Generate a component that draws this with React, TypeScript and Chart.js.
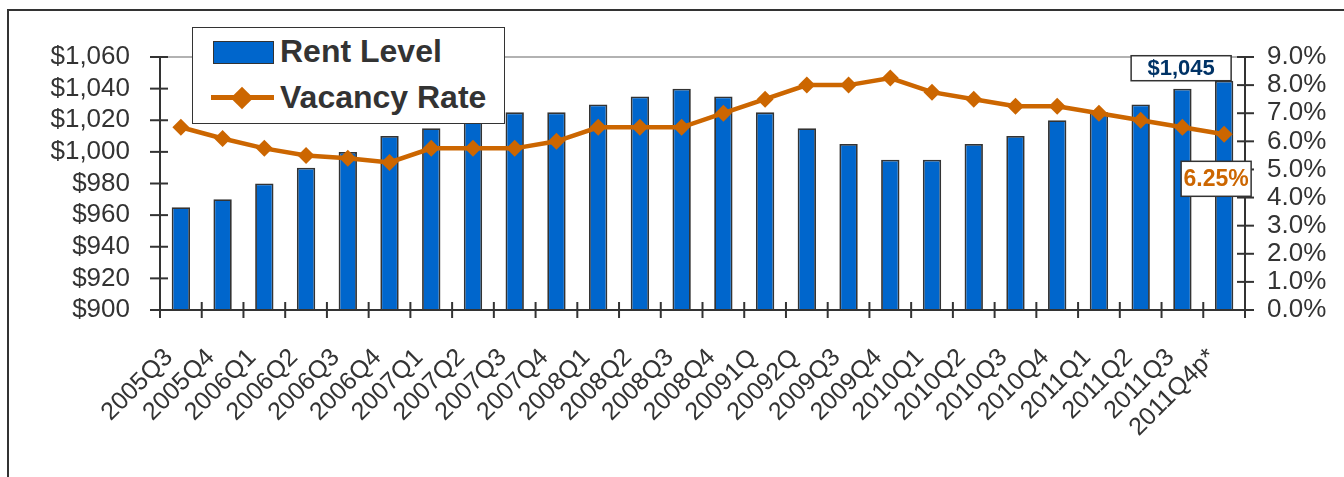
import React, { useEffect, useRef } from 'react';
import { Chart, registerables } from 'chart.js';

Chart.register(...registerables);

const categories = [
  '2005Q3', '2005Q4', '2006Q1', '2006Q2', '2006Q3', '2006Q4', '2007Q1', '2007Q2', '2007Q3',
  '2007Q4', '2008Q1', '2008Q2', '2008Q3', '2008Q4', '20091Q', '20092Q', '2009Q3', '2009Q4',
  '2010Q1', '2010Q2', '2010Q3', '2010Q4', '2011Q1', '2011Q2', '2011Q3', '2011Q4p*',
];
const rentLevel = [
  965, 970, 980, 990, 1000, 1010, 1015, 1020, 1025, 1025, 1030, 1035, 1040, 1035, 1025, 1015,
  1005, 995, 995, 1005, 1010, 1020, 1025, 1030, 1040, 1045,
];
const vacancyRate = [
  6.5, 6.1, 5.75, 5.5, 5.4, 5.25, 5.75, 5.75, 5.75, 6.0, 6.5, 6.5, 6.5, 7.0, 7.5, 8.0, 8.0, 8.25,
  7.75, 7.5, 7.25, 7.25, 7.0, 6.75, 6.5, 6.25,
];
const rentTicks = [900, 920, 940, 960, 980, 1000, 1020, 1040, 1060];
const vacancyTicks = [0, 1, 2, 3, 4, 5, 6, 7, 8, 9];
const rentLabel = 'Rent Level';
const vacancyLabel = 'Vacancy Rate';

const BLUE = '#0066CC';
const ORANGE = '#CC6600';
const DARK = '#333333';
const FONT = '"Liberation Sans", Arial, sans-serif';

const fmtRent = (v: number) => '$' + v.toLocaleString('en-US');
const fmtPct = (v: number) => v.toFixed(1) + '%';

const axesPlugin = {
  id: 'axesTicks',
  afterDatasetsDraw(chart: any) {
    const { ctx, chartArea, scales } = chart;
    const { left, right, top, bottom } = chartArea;
    const line = (x1: number, y1: number, x2: number, y2: number) => {
      ctx.beginPath();
      ctx.moveTo(x1, y1);
      ctx.lineTo(x2, y2);
      ctx.stroke();
    };
    ctx.save();
    ctx.strokeStyle = '#999999';
    ctx.lineWidth = 1.5;
    const yTop = scales.y.getPixelForValue(rentTicks[rentTicks.length - 1]);
    line(left, yTop, right, yTop);
    ctx.strokeStyle = DARK;
    ctx.lineWidth = 2;
    line(left, top, left, bottom);
    rentTicks.forEach((v) => {
      const y = scales.y.getPixelForValue(v);
      line(left - 10, y, left + 8, y);
    });
    line(right, top, right, bottom);
    vacancyTicks.forEach((v) => {
      const y = scales.y1.getPixelForValue(v);
      line(right - 8, y, right + 9, y);
    });
    line(left, bottom, right, bottom);
    for (let i = 0; i <= categories.length; i++) {
      const x = scales.x.getPixelForValue(i - 0.5);
      line(x, bottom - 8, x, bottom + 8);
    }
    ctx.restore();
  },
  afterDraw(chart: any) {
    const { ctx } = chart;
    const last = categories.length - 1;
    const bar = chart.getDatasetMeta(1).data[last];
    const pt = chart.getDatasetMeta(0).data[last];
    ctx.save();
    {
      const x1 = bar.x - 93;
      const x2 = bar.x + 7;
      const y2 = bar.y;
      const y1 = y2 - 25;
      ctx.fillStyle = '#ffffff';
      ctx.fillRect(x1, y1, x2 - x1, y2 - y1);
      ctx.strokeStyle = DARK;
      ctx.lineWidth = 1.5;
      ctx.strokeRect(x1, y1, x2 - x1, y2 - y1);
      ctx.fillStyle = '#003366';
      ctx.font = `bold 22px ${FONT}`;
      ctx.textAlign = 'center';
      ctx.textBaseline = 'middle';
      ctx.fillText(fmtRent(rentLevel[last]), (x1 + x2) / 2, (y1 + y2) / 2 + 1);
    }
    {
      const x1 = pt.x - 43;
      const x2 = pt.x + 27;
      const y1 = pt.y + 27;
      const y2 = pt.y + 62;
      ctx.fillStyle = '#ffffff';
      ctx.fillRect(x1, y1, x2 - x1, y2 - y1);
      ctx.strokeStyle = DARK;
      ctx.lineWidth = 1.5;
      ctx.strokeRect(x1, y1, x2 - x1, y2 - y1);
      ctx.fillStyle = ORANGE;
      ctx.font = `bold 23px ${FONT}`;
      ctx.textAlign = 'center';
      ctx.textBaseline = 'middle';
      ctx.fillText(vacancyRate[last].toFixed(2) + '%', (x1 + x2) / 2, (y1 + y2) / 2 + 1);
    }
    ctx.restore();
  },
};

export default function App() {
  const canvasRef = useRef<HTMLCanvasElement | null>(null);

  useEffect(() => {
    if (!canvasRef.current) return;
    const chart = new Chart(canvasRef.current, {
      type: 'bar',
      data: {
        labels: categories,
        datasets: [
          {
            type: 'line',
            label: vacancyLabel,
            data: vacancyRate,
            yAxisID: 'y1',
            borderColor: ORANGE,
            backgroundColor: ORANGE,
            borderWidth: 4.5,
            pointStyle: 'rectRot',
            pointRadius: 8.5,
            pointBorderWidth: 0,
            pointBackgroundColor: ORANGE,
            tension: 0,
            order: 0,
          } as any,
          {
            type: 'bar',
            label: rentLabel,
            data: rentLevel,
            yAxisID: 'y',
            backgroundColor: BLUE,
            borderColor: DARK,
            borderWidth: 1.8,
            categoryPercentage: 1,
            barPercentage: 0.44,
            order: 1,
          } as any,
        ],
      },
      options: {
        responsive: false,
        animation: false,
        devicePixelRatio: 1,
        layout: { padding: { top: 57, left: 0, right: 0, bottom: 0 } },
        plugins: {
          legend: { display: false },
          tooltip: { enabled: false },
        },
        scales: {
          x: {
            grid: { display: false, drawTicks: false },
            border: { display: false },
            ticks: {
              autoSkip: false,
              maxRotation: 45,
              minRotation: 45,
              padding: 33,
              labelOffset: -12,
              color: DARK,
              font: { family: FONT, size: 25 },
            },
            afterFit: (s: any) => {
              s.height = 167;
            },
          },
          y: {
            position: 'left',
            min: rentTicks[0],
            max: rentTicks[rentTicks.length - 1],
            grid: { display: false, drawTicks: false },
            border: { display: false },
            afterBuildTicks: (s: any) => {
              s.ticks = rentTicks.map((v) => ({ value: v }));
            },
            ticks: {
              autoSkip: false,
              padding: 30,
              color: DARK,
              font: { family: FONT, size: 26 },
              callback: (v: any) => fmtRent(Number(v)),
            },
            afterFit: (s: any) => {
              s.width = 160;
            },
          },
          y1: {
            position: 'right',
            min: vacancyTicks[0],
            max: vacancyTicks[vacancyTicks.length - 1],
            grid: { display: false, drawTicks: false },
            border: { display: false },
            afterBuildTicks: (s: any) => {
              s.ticks = vacancyTicks.map((v) => ({ value: v }));
            },
            ticks: {
              autoSkip: false,
              padding: 22,
              color: DARK,
              font: { family: FONT, size: 26 },
              callback: (v: any) => fmtPct(Number(v)),
            },
            afterFit: (s: any) => {
              s.width = 99;
            },
          },
        },
      },
      plugins: [axesPlugin],
    } as any);
    return () => chart.destroy();
  }, []);

  return (
    <div
      style={{
        position: 'absolute',
        left: 0,
        top: 0,
        width: 1344,
        height: 477,
        overflow: 'hidden',
        background: '#ffffff',
        fontFamily: FONT,
      }}
    >
      <canvas ref={canvasRef} width={1344} height={477} style={{ position: 'absolute', left: 0, top: 0, width: 1344, height: 477 }} />
      <div
        style={{
          position: 'absolute',
          left: 7,
          top: 9,
          width: 1400,
          height: 600,
          border: `2px solid ${DARK}`,
          pointerEvents: 'none',
        }}
      />
      <div
        style={{
          position: 'absolute',
          left: 192,
          top: 27,
          width: 313,
          height: 97,
          border: `1.5px solid ${DARK}`,
          background: '#ffffff',
          boxSizing: 'border-box',
        }}
      />
      <div
        style={{
          position: 'absolute',
          left: 213,
          top: 41,
          width: 61,
          height: 23,
          background: BLUE,
          border: `1.5px solid ${DARK}`,
          boxSizing: 'border-box',
        }}
      />
      <div
        style={{
          position: 'absolute',
          left: 280,
          top: 35,
          fontSize: 32,
          lineHeight: '32px',
          fontWeight: 'bold',
          color: DARK,
          whiteSpace: 'nowrap',
        }}
      >
        {rentLabel}
      </div>
      <div
        style={{
          position: 'absolute',
          left: 211,
          top: 95,
          width: 63,
          height: 5,
          background: ORANGE,
        }}
      />
      <div
        style={{
          position: 'absolute',
          left: 242 - 8,
          top: 97.5 - 8,
          width: 16,
          height: 16,
          background: ORANGE,
          transform: 'rotate(45deg)',
        }}
      />
      <div
        style={{
          position: 'absolute',
          left: 280,
          top: 81,
          fontSize: 32,
          lineHeight: '32px',
          fontWeight: 'bold',
          color: DARK,
          whiteSpace: 'nowrap',
        }}
      >
        {vacancyLabel}
      </div>
    </div>
  );
}
